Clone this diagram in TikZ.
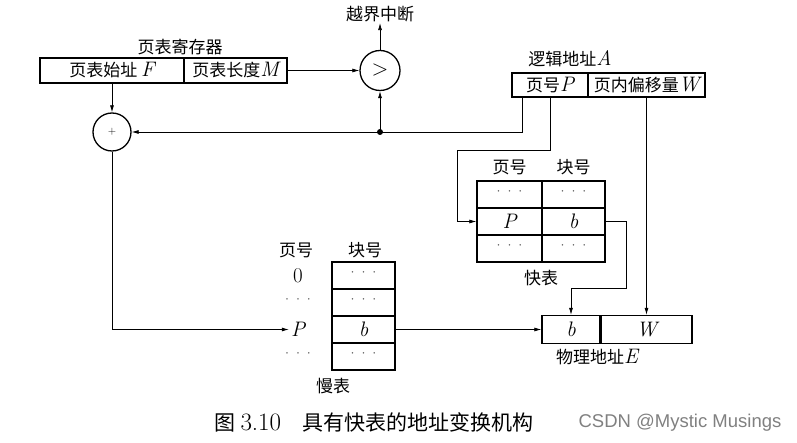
\documentclass[tikz,border=0pt]{standalone}
\usepackage{fontspec}
\newfontfamily\cjk{Noto Sans CJK SC}
\newfontfamily\wmfont{Liberation Sans}
\usetikzlibrary{arrows.meta,positioning,shapes}

\newcommand\vi[1]{{\rmfamily\itshape\fontsize{21}{21}\selectfont #1}}
\newcommand\vr[1]{{\rmfamily\fontsize{21}{21}\selectfont #1}}
\newcommand\dd{{\rmfamily\fontsize{18}{18}\selectfont\color{black!70}\textperiodcentered\kern-2pt\textperiodcentered\kern-2pt\textperiodcentered}}

\tikzset{
  cell/.style={draw,line width=1.3pt,inner sep=0pt,minimum height=27pt},
  ring/.style={draw,circle,line width=1.3pt,inner sep=0pt},
  arr/.style={-{Latex[length=7pt,width=4pt]},line width=0.7pt}
}

\begin{document}
\begin{tikzpicture}[x=1pt,y=-1pt,font=\cjk\fontsize{17}{19}\selectfont]
\useasboundingbox (0,0) rectangle (797,443);
% page table register
\node at (180,47) {页表寄存器};
\node[cell,minimum width=144pt,minimum height=25pt] (regF) at (112,70.5) {页表始址 \vi{F}};
\node[cell,minimum width=103pt,minimum height=25pt] (regM) at (235.5,70.5) {页表长度\vi{M}};
\node[ring,minimum size=40pt] (cmp) at (380,70.5) {\rmfamily\fontsize{22}{22}\selectfont >};
\node[inner sep=1pt] (ovf) at (380,14) {越界中断};
\node[ring,minimum size=38pt] (add) at (112,132) {\rmfamily\fontsize{11}{11}\selectfont +};
% logical address
\node at (570,59) {逻辑地址\vi{A}};
\node[cell,minimum width=76pt,minimum height=24pt] (lP) at (550,85) {页号\vi{P}};
\node[cell,minimum width=117pt,minimum height=24pt] (lW) at (646.5,85) {页内偏移量\vi{W}};
% fast table
\node at (509.5,167) {页号};
\node at (573.5,167) {块号};
\node[cell,minimum width=65pt] (fP0) at (509.5,194.5) {\dd};
\node[cell,minimum width=63pt] (fB0) at (573.5,194.5) {\dd};
\node[cell,minimum width=65pt] (fP1) at (509.5,221.5) {\vi{P}};
\node[cell,minimum width=63pt] (fB1) at (573.5,221.5) {\vi{b}};
\node[cell,minimum width=65pt] (fP2) at (509.5,248.5) {\dd};
\node[cell,minimum width=63pt] (fB2) at (573.5,248.5) {\dd};
\node at (541,278) {快表};
% slow table
\node at (296,250) {页号};
\node at (365,250) {块号};
\node (sP0) at (298,275.5) {\vr{0}};
\node (sP1) at (298,302.5) {\dd};
\node[inner sep=2pt] (sP2) at (298,329.5) {\vi{P}};
\node (sP3) at (298,356.5) {\dd};
\node[cell,minimum width=63pt] (sB0) at (363.5,275.5) {\dd};
\node[cell,minimum width=63pt] (sB1) at (363.5,302.5) {\dd};
\node[cell,minimum width=63pt] (sB2) at (363.5,329.5) {\vi{b}};
\node[cell,minimum width=63pt] (sB3) at (363.5,356.5) {\dd};
\node at (333,386) {慢表};
% physical address
\node[cell,minimum width=58pt,minimum height=28pt] (phyB) at (571,329.5) {\vi{b}};
\node[cell,minimum width=91pt,minimum height=28pt] (phyW) at (646.5,329.5) {\vi{W}};
\node at (597,357) {物理地址\vi{E}};
% connectors
\coordinate (tap) at (cmp |- add);
\coordinate (k1) at (457,150);
\coordinate (k2) at (626,288);
\draw[arr] (regM.east) -- (cmp.west);
\draw[arr] (cmp.north) -- (ovf.south);
\draw[arr] (regF.south) -- (add.north);
\draw[arr] (tap) -- (cmp.south);
\fill (tap) circle (3pt);
\draw[arr] ([xshift=-28pt]lP.south) |- (add.east);
\draw[arr] (lP.south) |- (k1) |- (fP1.west);
\draw[arr] (fB1.east) -| (k2) -| (phyB.north);
\draw[arr] (lW.south) -- (phyW.north);
\draw[arr] (add.south) |- (sP2.west);
\draw[arr] (sB2.east) -- (phyB.west);
% caption
\node[font=\cjk\fontsize{21}{24}\selectfont] (cap) at (374,422) {图 {\rmfamily\fontsize{25}{25}\selectfont 3.10}\quad 具有快表的地址变换机构};
\node[font=\wmfont\fontsize{18.5}{20}\selectfont,text=black!50] (wm) at (680,423) {CSDN @Mystic Musings};
\end{tikzpicture}
\end{document}
